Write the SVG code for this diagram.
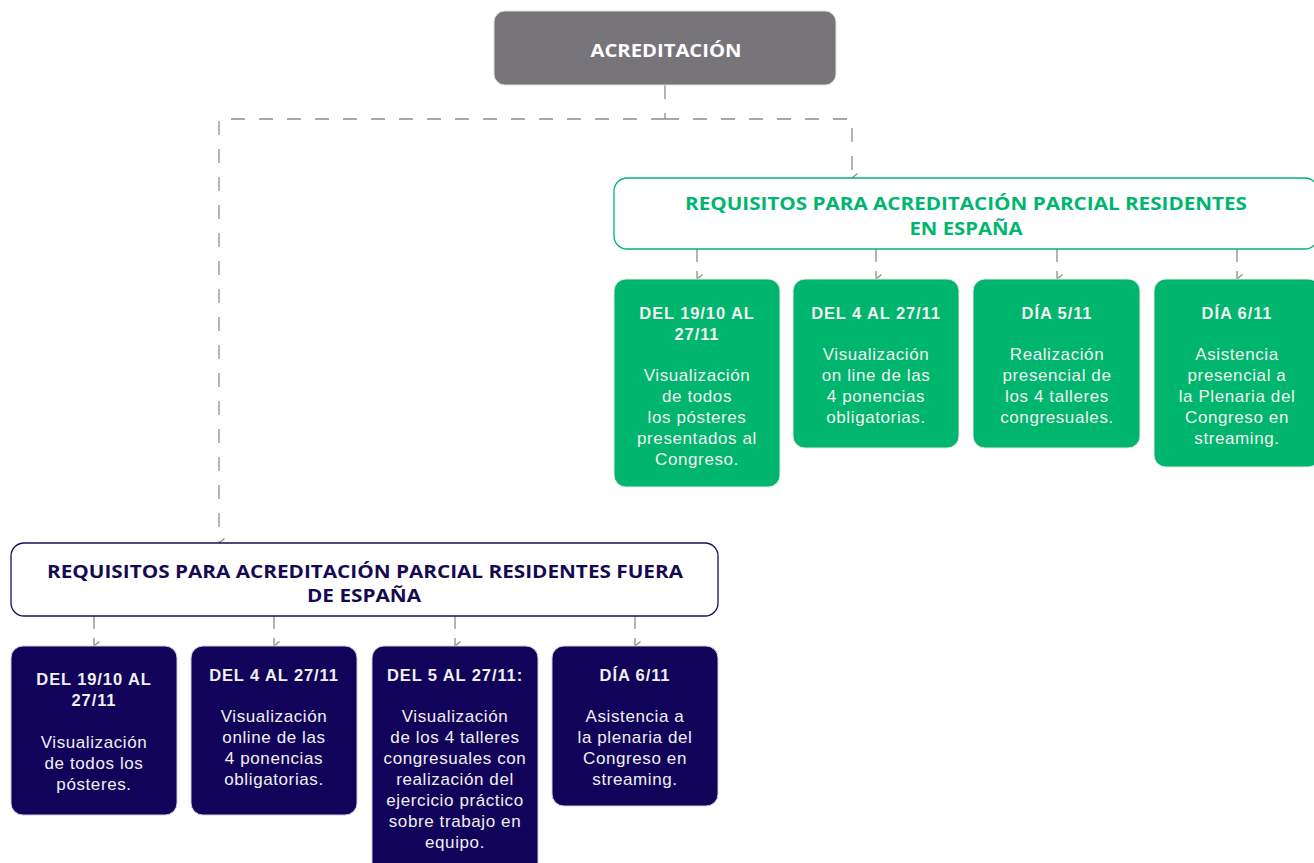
<svg xmlns="http://www.w3.org/2000/svg" width="1314" height="863" viewBox="0 0 1314 863">
<defs>
<style>
.t{font-family:"Liberation Sans",Arial,sans-serif;text-anchor:middle}
.b{font-weight:bold;font-size:16.5px;letter-spacing:0.9px}
.r{font-size:17px;letter-spacing:0.6px}
.w{fill:#f0f0f0}
.h{font-family:"Open Sans","Liberation Sans",Arial,sans-serif;font-size:18px;font-weight:bold}
.c{fill:none;stroke:#8c8c8c;stroke-width:1.3;stroke-dasharray:14 14}
.s{fill:none;stroke:#8c8c8c;stroke-width:1.3;stroke-dasharray:13 9}
.g{fill:#00b56e;stroke:#e6e6e6;stroke-width:1}
.d{fill:#12035a;stroke:#cfcbe0;stroke-width:1}
</style>
<marker id="a" viewBox="0 0 12 10" refX="6" refY="9" markerWidth="12" markerHeight="10" markerUnits="userSpaceOnUse" orient="auto">
<path d="M1.5,3.5 L6,9 L10.5,3.5" fill="none" stroke="#8c8c8c" stroke-width="1.3"/>
</marker>
</defs>
<g id="connectors">
<path class="c" d="M665,85 V119"/>
<path class="c" d="M665,119 H219 V543" marker-end="url(#a)"/>
<path class="c" d="M665,119 H852 V178" marker-end="url(#a)"/>
<path class="s" d="M697,249 V279" marker-end="url(#a)"/>
<path class="s" d="M876,249 V279" marker-end="url(#a)"/>
<path class="s" d="M1057,249 V279" marker-end="url(#a)"/>
<path class="s" d="M1237,249 V279" marker-end="url(#a)"/>
<path class="s" d="M94,616 V646" marker-end="url(#a)"/>
<path class="s" d="M274,616 V646" marker-end="url(#a)"/>
<path class="s" d="M455,616 V646" marker-end="url(#a)"/>
<path class="s" d="M635,616 V646" marker-end="url(#a)"/>
</g>
<g id="acreditacion">
<rect x="494" y="11" width="342" height="74" rx="11" fill="#77757a" stroke="#e0e0e0"/>
<text class="t h" x="666" y="57" fill="#ffffff" textLength="151" lengthAdjust="spacingAndGlyphs">ACREDITACIÓN</text>
</g>
<g id="espana-header">
<rect x="614" y="178" width="704" height="71" rx="13" fill="#ffffff" stroke="#00b56e" stroke-width="1.3"/>
<text class="t h" x="966" y="210" fill="#00b56e" textLength="562" lengthAdjust="spacingAndGlyphs">REQUISITOS PARA ACREDITACIÓN PARCIAL RESIDENTES</text>
<text class="t h" x="966" y="235" fill="#00b56e" textLength="113" lengthAdjust="spacingAndGlyphs">EN ESPAÑA</text>
</g>
<g id="es1">
<rect class="g" x="614" y="279" width="166" height="208" rx="12"/>
<text class="t w"><tspan class="b" x="697" y="319">DEL 19/10 AL</tspan><tspan class="b" x="697" y="340">27/11</tspan><tspan class="r" x="697" y="381">Visualización</tspan><tspan class="r" x="697" y="402">de todos</tspan><tspan class="r" x="697" y="423">los pósteres</tspan><tspan class="r" x="697" y="444">presentados al</tspan><tspan class="r" x="697" y="465">Congreso.</tspan></text>
</g>
<g id="es2">
<rect class="g" x="793" y="279" width="166" height="169" rx="12"/>
<text class="t w"><tspan class="b" x="876" y="319">DEL 4 AL 27/11</tspan><tspan class="r" x="876" y="360">Visualización</tspan><tspan class="r" x="876" y="381">on line de las</tspan><tspan class="r" x="876" y="402">4 ponencias</tspan><tspan class="r" x="876" y="423">obligatorias.</tspan></text>
</g>
<g id="es3">
<rect class="g" x="973" y="279" width="167" height="169" rx="12"/>
<text class="t w"><tspan class="b" x="1057" y="319">DÍA 5/11</tspan><tspan class="r" x="1057" y="360">Realización</tspan><tspan class="r" x="1057" y="381">presencial de</tspan><tspan class="r" x="1057" y="402">los 4 talleres</tspan><tspan class="r" x="1057" y="423">congresuales.</tspan></text>
</g>
<g id="es4">
<rect class="g" x="1154" y="279" width="166" height="188" rx="12"/>
<text class="t w"><tspan class="b" x="1237" y="319">DÍA 6/11</tspan><tspan class="r" x="1237" y="360">Asistencia</tspan><tspan class="r" x="1237" y="381">presencial a</tspan><tspan class="r" x="1237" y="402">la Plenaria del</tspan><tspan class="r" x="1237" y="423">Congreso en</tspan><tspan class="r" x="1237" y="444">streaming.</tspan></text>
</g>
<g id="fuera-header">
<rect x="11" y="543" width="707" height="73" rx="13" fill="#ffffff" stroke="#1a0d5e" stroke-width="1.3"/>
<text class="t h" x="365" y="578" fill="#150a52" textLength="636" lengthAdjust="spacingAndGlyphs">REQUISITOS PARA ACREDITACIÓN PARCIAL RESIDENTES FUERA</text>
<text class="t h" x="364" y="602" fill="#150a52" textLength="114" lengthAdjust="spacingAndGlyphs">DE ESPAÑA</text>
</g>
<g id="fe1">
<rect class="d" x="11" y="646" width="166" height="169" rx="12"/>
<text class="t w"><tspan class="b" x="94" y="685">DEL 19/10 AL</tspan><tspan class="b" x="94" y="706">27/11</tspan><tspan class="r" x="94" y="748">Visualización</tspan><tspan class="r" x="94" y="769">de todos los</tspan><tspan class="r" x="94" y="790">pósteres.</tspan></text>
</g>
<g id="fe2">
<rect class="d" x="191" y="646" width="166" height="169" rx="12"/>
<text class="t w"><tspan class="b" x="274" y="681">DEL 4 AL 27/11</tspan><tspan class="r" x="274" y="722">Visualización</tspan><tspan class="r" x="274" y="743">online de las</tspan><tspan class="r" x="274" y="764">4 ponencias</tspan><tspan class="r" x="274" y="785">obligatorias.</tspan></text>
</g>
<g id="fe3">
<rect class="d" x="372" y="646" width="166" height="230" rx="12"/>
<text class="t w"><tspan class="b" x="455" y="681">DEL 5 AL 27/11:</tspan><tspan class="r" x="455" y="722">Visualización</tspan><tspan class="r" x="455" y="743">de los 4 talleres</tspan><tspan class="r" x="455" y="764">congresuales con</tspan><tspan class="r" x="455" y="785">realización del</tspan><tspan class="r" x="455" y="806">ejercicio práctico</tspan><tspan class="r" x="455" y="827">sobre trabajo en</tspan><tspan class="r" x="455" y="848">equipo.</tspan></text>
</g>
<g id="fe4">
<rect class="d" x="552" y="646" width="166" height="160" rx="12"/>
<text class="t w"><tspan class="b" x="635" y="681">DÍA 6/11</tspan><tspan class="r" x="635" y="722">Asistencia a</tspan><tspan class="r" x="635" y="743">la plenaria del</tspan><tspan class="r" x="635" y="764">Congreso en</tspan><tspan class="r" x="635" y="785">streaming.</tspan></text>
</g>
</svg>
